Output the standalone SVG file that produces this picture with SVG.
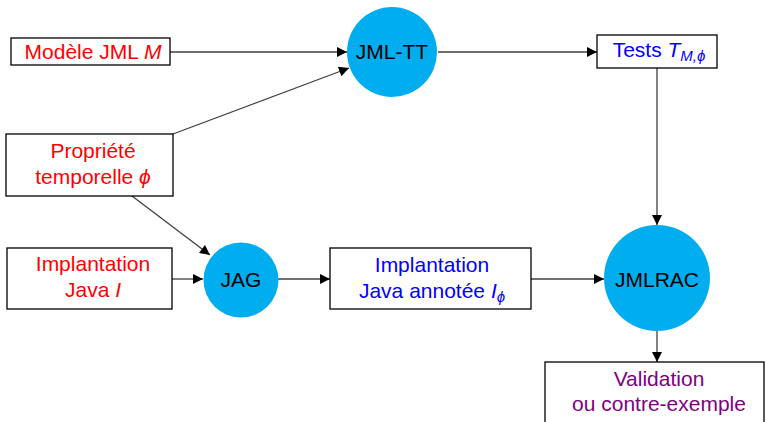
<svg xmlns="http://www.w3.org/2000/svg" width="766" height="422" viewBox="0 0 766 422">
  <style>
    .box { fill: #ffffff; stroke: #000000; stroke-width: 1.3; }
    .proc { fill: #00aeef; stroke: none; }
    .t { font-family: "Liberation Sans", Arial, sans-serif; font-size: 21px; text-anchor: middle; }
    .red { fill: #ff0000; }
    .blue { fill: #0000ff; }
    .purple { fill: #800080; }
    .black { fill: #000000; }
    .it { font-style: italic; }
    .sub { font-style: italic; font-size: 15px; }
    .edge { stroke: #404040; stroke-width: 1.3; fill: none; marker-end: url(#arrow); }
  </style>
  <defs>
    <marker id="arrow" viewBox="0 0 10 10" refX="10" refY="5" markerUnits="userSpaceOnUse" markerWidth="12" markerHeight="10" orient="auto">
      <path d="M0,0 L10,5 L0,10 z" fill="#000000"/>
    </marker>
  </defs>

  <!-- connectors -->
  <g id="connectors">
    <line class="edge" x1="170" y1="52" x2="347" y2="52"/>
    <line class="edge" x1="173" y1="134" x2="349" y2="68"/>
    <line class="edge" x1="438" y1="52" x2="597" y2="52"/>
    <line class="edge" x1="657" y1="68" x2="657" y2="225"/>
    <line class="edge" x1="132" y1="196" x2="210" y2="255"/>
    <line class="edge" x1="172" y1="279" x2="203" y2="279"/>
    <line class="edge" x1="278" y1="279" x2="330" y2="279"/>
    <line class="edge" x1="531" y1="279" x2="604" y2="279"/>
    <line class="edge" x1="657" y1="331" x2="657" y2="362"/>
  </g>

  <g id="modele">
    <rect class="box" x="11" y="38" width="159" height="27"/>
    <text class="t red" x="93" y="59">Modèle JML <tspan class="it">M</tspan></text>
  </g>

  <g id="propriete">
    <rect class="box" x="6" y="134" width="167" height="62"/>
    <text class="t red" x="93" y="158">Propriété</text>
    <text class="t red" x="93" y="184">temporelle <tspan class="it">ϕ</tspan></text>
  </g>

  <g id="implantation">
    <rect class="box" x="7" y="248" width="165" height="61"/>
    <text class="t red" x="93" y="271">Implantation</text>
    <text class="t red" x="93" y="297">Java <tspan class="it">I</tspan></text>
  </g>

  <g id="jmltt">
    <circle class="proc" cx="392" cy="52" r="45"/>
    <text class="t black" x="392" y="59">JML-TT</text>
  </g>

  <g id="jag">
    <circle class="proc" cx="241" cy="280" r="37.5"/>
    <text class="t black" x="241" y="287">JAG</text>
  </g>

  <g id="tests">
    <rect class="box" x="597" y="35" width="120" height="33"/>
    <text class="t blue" x="659" y="57">Tests <tspan class="it">T</tspan><tspan class="sub" dy="4">M,ϕ</tspan></text>
  </g>

  <g id="annotee">
    <rect class="box" x="330" y="248" width="201" height="61"/>
    <text class="t blue" x="432" y="272">Implantation</text>
    <text class="t blue" x="432" y="298">Java annotée <tspan class="it">I</tspan><tspan class="sub" dy="4">ϕ</tspan></text>
  </g>

  <g id="jmlrac">
    <circle class="proc" cx="657" cy="278" r="53"/>
    <text class="t black" x="657" y="287">JMLRAC</text>
  </g>

  <g id="validation">
    <rect class="box" x="545" y="362" width="219" height="70"/>
    <text class="t purple" x="659" y="386">Validation</text>
    <text class="t purple" x="659" y="411">ou contre-exemple</text>
  </g>
</svg>
